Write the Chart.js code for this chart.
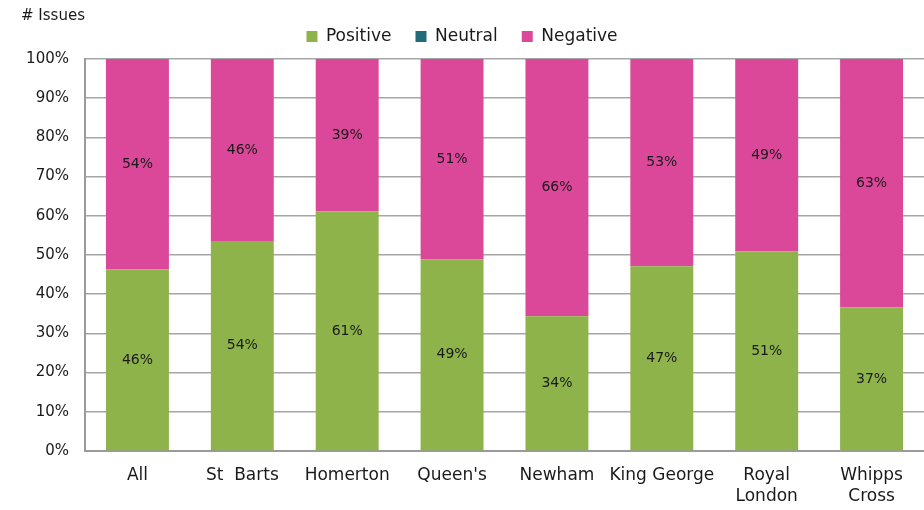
<!DOCTYPE html>
<html>
<head>
<meta charset="utf-8">
<script src="https://cdn.jsdelivr.net/npm/chart.js@4"></script>
<style>
  html, body { margin: 0; padding: 0; background: #fff; }
  #wrap { position: relative; width: 924px; height: 510px; }
</style>
</head>
<body>
<div id="wrap"><canvas id="issuesChart" width="924" height="510"></canvas></div>
<script>
// Sentiment of issues by site (% share)
const sites = ['All', 'St  Barts', 'Homerton', "Queen's", 'Newham', 'King George', ['Royal', 'London'], ['Whipps', 'Cross']];
const positive = [46.3, 53.6, 61.1, 48.9, 34.4, 47.1, 50.9, 36.6];
const neutral = [0, 0, 0, 0, 0, 0, 0, 0];
const negative = [53.7, 46.4, 38.9, 51.1, 65.6, 52.9, 49.1, 63.4];
const yTicks = [0, 10, 20, 30, 40, 50, 60, 70, 80, 90, 100];

const FONT = 'DejaVu Sans';

// write the % inside each bar segment
const barLabels = {
    id: 'barLabels',
    afterDatasetsDraw(chart) {
        const ctx = chart.ctx;
        ctx.save();
        ctx.font = '14px "' + FONT + '"';
        ctx.fillStyle = '#1a1a1a';
        ctx.textAlign = 'center';
        ctx.textBaseline = 'middle';
        chart.data.datasets.forEach((ds, i) => {
            const meta = chart.getDatasetMeta(i);
            meta.data.forEach((bar, j) => {
                const v = ds.data[j];
                if (!v) return;
                const mid = (bar.y + bar.base) / 2;
                ctx.fillText(Math.round(v) + '%', bar.x, mid);
            });
        });
        ctx.restore();
    }
};

// "# Issues" caption top left
const caption = {
    id: 'caption',
    afterDraw(chart) {
        const ctx = chart.ctx;
        ctx.save();
        ctx.font = '15px "' + FONT + '"';
        ctx.fillStyle = '#1a1a1a';
        ctx.textAlign = 'left';
        ctx.textBaseline = 'middle';
        ctx.fillText('# Issues', 21, 16);
        ctx.restore();
    }
};

// a bit more room under the legend
const legendGap = {
    id: 'legendGap',
    beforeInit(chart) {
        const fit = chart.legend.fit;
        chart.legend.fit = function () {
            fit.call(this);
            this.height += 4;
        };
    }
};

const ctx = document.getElementById('issuesChart').getContext('2d');
const issuesChart = new Chart(ctx, {
    type: 'bar',
    data: {
        labels: sites,
        datasets: [
            { label: 'Positive', data: positive, backgroundColor: '#8DB34A' },
            { label: 'Neutral', data: neutral, backgroundColor: '#236A7B' },
            { label: 'Negative', data: negative, backgroundColor: '#DC4899' }
        ]
    },
    options: {
        responsive: false,
        animation: false,
        devicePixelRatio: 1,
        layout: { padding: { top: 4, right: 0, left: 0, bottom: 0 } },
        datasets: {
            bar: { barPercentage: 0.6, categoryPercentage: 1.0, borderWidth: 0 }
        },
        scales: {
            x: {
                stacked: true,
                grid: { display: false, drawTicks: false },
                border: { color: '#9a9a9a', width: 2 },
                ticks: {
                    color: '#1a1a1a',
                    font: { family: FONT, size: 17, lineHeight: 1.25 },
                    padding: 14,
                    maxRotation: 0,
                    autoSkip: false
                },
                afterFit(scale) { scale.height = 59; }
            },
            y: {
                stacked: true,
                min: 0,
                max: 100,
                afterBuildTicks(scale) {
                    scale.ticks = yTicks.map(v => ({ value: v }));
                },
                grid: { color: '#a6a6a6', lineWidth: 1.5, drawTicks: false },
                border: { color: '#9a9a9a', width: 2 },
                ticks: {
                    color: '#1a1a1a',
                    font: { family: FONT, size: 15 },
                    padding: 16,
                    callback: v => v + '%'
                },
                afterFit(scale) { scale.width = 85; }
            }
        },
        plugins: {
            legend: {
                position: 'top',
                align: 'center',
                labels: {
                    color: '#1a1a1a',
                    font: { family: FONT, size: 17 },
                    boxWidth: 11,
                    boxHeight: 11,
                    padding: 24
                }
            },
            tooltip: { enabled: false }
        }
    },
    plugins: [barLabels, caption, legendGap]
});
</script>
</body>
</html>
